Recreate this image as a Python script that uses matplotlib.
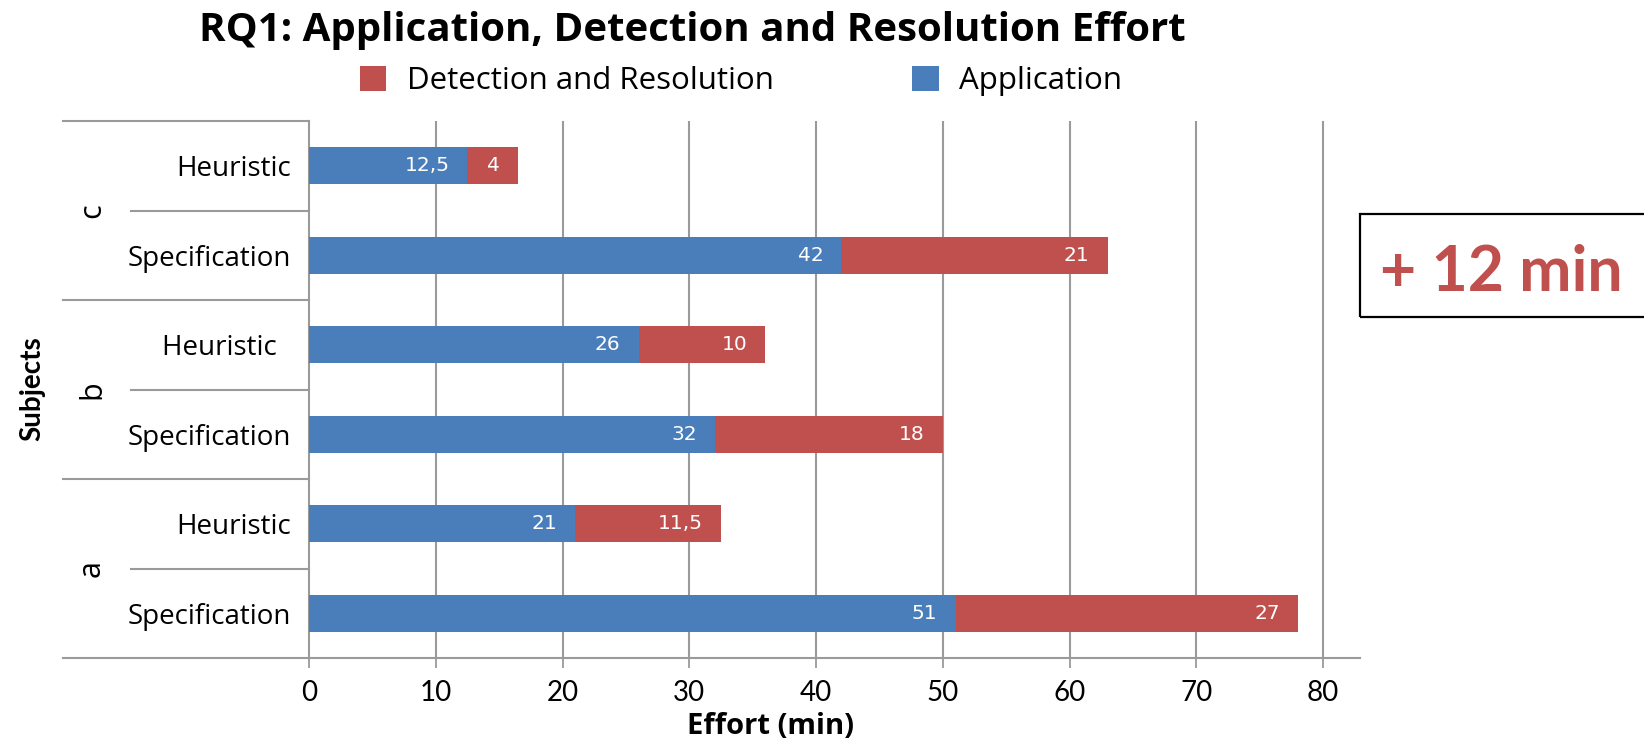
import matplotlib
matplotlib.use("Agg")
import matplotlib.pyplot as plt
from matplotlib.patches import Rectangle
from matplotlib.transforms import blended_transform_factory

# ---- data ----
subjects = ["a", "b", "c"]
methods = ["Specification", "Heuristic"]
row_labels = ["Specification", "Heuristic", "Specification", "Heuristic  ", "Specification", "Heuristic"]
application = [51, 21, 32, 26, 42, 12.5]
detection = [27, 11.5, 18, 10, 21, 4]
series_names = ["Detection and Resolution", "Application"]
xticks = [0, 10, 20, 30, 40, 50, 60, 70, 80]
title = "RQ1: Application, Detection and Resolution Effort"
xlabel = "Effort (min)"
ylabel = "Subjects"
note = "+ 12 min"

BLUE = "#4A7EBB"
RED = "#C0504D"
GRID = "#9A9A9A"
FONT = "Lato"
WIDE = "Open Sans"

def fmt(v):
    s = ("%g" % v)
    return s.replace(".", ",")

fig = plt.figure(figsize=(16.44, 7.45), dpi=100)
ax = fig.add_axes([309 / 1644, 1 - 658 / 745, (1360 - 309) / 1644, (658 - 121) / 745])

ypos = list(range(len(row_labels)))
bh = 0.41
b_app = ax.barh(ypos, application, height=bh, color=BLUE, label=series_names[1], zorder=3)
b_det = ax.barh(ypos, detection, left=application, height=bh, color=RED, label=series_names[0], zorder=3)

for bars, vals, lefts in ((b_app, application, [0] * len(application)), (b_det, detection, application)):
    for y, v, l in zip(ypos, vals, lefts):
        ax.annotate(fmt(v), xy=(l + v, y), xytext=(-13, 0), textcoords="offset points",
                    ha="right", va="center", color="white", fontsize=14.5,
                    family="DejaVu Sans", zorder=4)

ax.set_xlim(0, 82.9)
ax.set_ylim(-0.5, len(row_labels) - 0.5)
ax.set_xticks(xticks)
ax.set_xticklabels([str(t) for t in xticks], fontsize=20, family=FONT)
ax.tick_params(axis="x", length=7, width=1.3, color=GRID, pad=9)
ax.set_yticks(ypos)
ax.set_yticklabels(row_labels, fontsize=20, family=WIDE)
ax.tick_params(axis="y", length=0, pad=13)

for x in xticks[1:]:
    ax.axvline(x, color=GRID, lw=1.5, zorder=1)

for s in ["top", "right"]:
    ax.spines[s].set_visible(False)
ax.spines["left"].set_color(GRID)
ax.spines["left"].set_linewidth(1.5)
ax.spines["bottom"].set_color(GRID)
ax.spines["bottom"].set_linewidth(1.5)

# group separators outside axes
tr = blended_transform_factory(fig.transFigure, ax.transData)
x_ax_left = 309 / 1644
for yv in [-0.5, 1.5, 3.5, 5.5]:
    ax.plot([63 / 1644, x_ax_left], [yv, yv], transform=tr, color=GRID, lw=1.5, clip_on=False)
for yv in [0.5, 2.5, 4.5]:
    ax.plot([131 / 1644, x_ax_left], [yv, yv], transform=tr, color=GRID, lw=1.5, clip_on=False)

for i, s in enumerate(subjects):
    ax.text(92 / 1644, 2 * i + 0.5, s, transform=tr, rotation=90, ha="center", va="center",
            fontsize=22, family=WIDE)

fig.text(32 / 1644, 1 - 389 / 745, ylabel, rotation=90, ha="center", va="center",
         fontsize=20, fontweight="bold", family=FONT)
fig.text(770 / 1644, 1 - 727 / 745, xlabel, ha="center", va="center",
         fontsize=21, fontweight="bold", family=WIDE)

fig.text(692 / 1644, 1 - 30 / 745, title, ha="center", va="center",
         fontsize=29, fontweight="bold", family=WIDE)

leg = fig.legend(handles=[b_det, b_app], labels=series_names, loc="center",
                 bbox_to_anchor=(741 / 1644, 1 - 81 / 745), ncol=2, frameon=False,
                 prop={"family": WIDE, "size": 22.5}, handlelength=0.85, handleheight=0.85,
                 handletextpad=0.65, columnspacing=4.45)

fig.patches.append(Rectangle((1360 / 1644, 1 - 317 / 745), 0.2, (317 - 214) / 745,
                             transform=fig.transFigure, fill=False, edgecolor="black", lw=1.6))
fig.text(1501 / 1644, 1 - 273 / 745, note, ha="center", va="center", color=RED,
         fontsize=45, fontweight="bold", family=FONT)

fig.savefig("out.png", dpi=100)
